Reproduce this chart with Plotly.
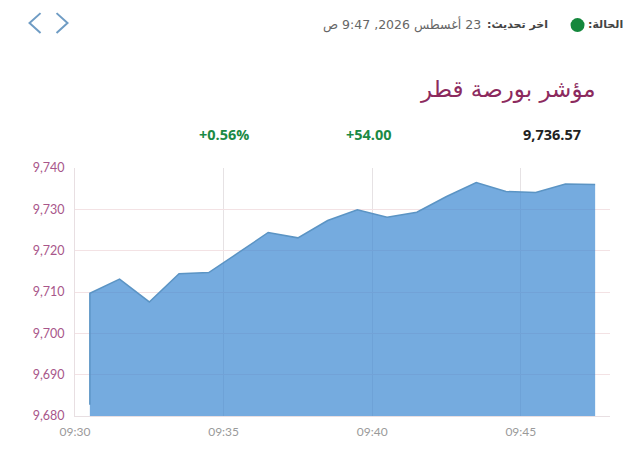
import plotly.graph_objects as go

# Data
times = ["2026-08-23 09:30:30", "2026-08-23 09:30:30", "2026-08-23 09:31:30", "2026-08-23 09:32:30",
         "2026-08-23 09:33:30", "2026-08-23 09:34:30", "2026-08-23 09:35:30", "2026-08-23 09:36:30",
         "2026-08-23 09:37:30", "2026-08-23 09:38:30", "2026-08-23 09:39:30", "2026-08-23 09:40:30",
         "2026-08-23 09:41:30", "2026-08-23 09:42:30", "2026-08-23 09:43:30", "2026-08-23 09:44:30",
         "2026-08-23 09:45:30", "2026-08-23 09:46:30", "2026-08-23 09:47:30"]
index_values = [9682.7, 9709.7, 9713.1, 9707.6, 9714.4, 9714.7, 9719.5, 9724.4, 9723.1, 9727.3,
                9729.9, 9728.1, 9729.3, 9733.1, 9736.5, 9734.3, 9734.1, 9736.1, 9736.0]
y_ticks = [9680, 9690, 9700, 9710, 9720, 9730, 9740]

title_text = "مؤشر بورصة قطر"
status_label = "\u202bالحالة:\u202c"
update_label = "\u202bاخر تحديث:\u202c"
update_value = "\u202b23 أغسطس 2026, 9:47 ص\u202c"
last_value = "9,736.57"
change_value = "+54.00"
change_pct = "+0.56%"

W, H = 640, 467
L, R, T, B = 74.5, 610, 167.5, 416.5


def px(x):
    return (x - L) / (R - L)


def py(y):
    return (B - y) / (B - T)


fig = go.Figure()

fig.add_trace(go.Scatter(
    x=times,
    y=index_values,
    mode="lines",
    line=dict(color="#5b94c4", width=1.5),
    fill="tozeroy",
    fillcolor="rgba(58,135,209,0.7)",
    hoverinfo="skip",
    showlegend=False,
))


def label(text, x, y, size, color, anchor="center", family="Noto Sans"):
    fig.add_annotation(
        text=text, x=px(x), y=py(y), xref="paper", yref="paper",
        xanchor=anchor, yanchor="middle", showarrow=False,
        borderpad=0, borderwidth=0,
        font=dict(size=size, color=color, family=family),
    )


arabic = "DejaVu Sans"
label("<b>" + status_label + "</b>", 623, 23, 11, "#444444", "right", arabic)
label("<b>" + update_label + "</b>", 548, 23, 11, "#444444", "right", arabic)
label(update_value, 481, 23, 12.5, "#666666", "right", arabic)
label(title_text, 596, 89, 23, "#8c2a5e", "right", arabic)
label("<b>" + last_value + "</b>", 552, 134, 14.5, "#222222", family="Open Sans")
label("<b>" + change_value + "</b>", 369, 134, 14.5, "#1b8a45", family="Open Sans")
label("<b>" + change_pct + "</b>", 224, 134, 14.5, "#1b8a45", family="Open Sans")

# Status dot and the two arrows
fig.add_shape(type="circle", xref="paper", yref="paper",
              x0=px(570.5), x1=px(584.5), y0=py(31), y1=py(17),
              fillcolor="#14873c", line=dict(width=0))
for pts in ([(40, 12), (29, 22), (40, 32)], [(56, 12), (67, 22), (56, 32)]):
    path = "M " + " L ".join(f"{px(a):.4f} {py(b):.4f}" for a, b in pts)
    fig.add_shape(type="path", xref="paper", yref="paper", path=path,
                  line=dict(color="#6f9cc4", width=2))

fig.update_layout(
    width=W,
    height=H,
    margin=dict(l=L, r=W - R, t=T, b=H - B, pad=0),
    paper_bgcolor="white",
    plot_bgcolor="white",
    xaxis=dict(
        range=["2026-08-23 09:30:00", "2026-08-23 09:48:00"],
        dtick=300000,
        tick0="2026-08-23 09:30:00",
        tickformat="%H:%M",
        showgrid=True,
        gridcolor="#e6e2e4",
        gridwidth=1,
        showline=True,
        linecolor="#e8dfe2",
        ticks="outside",
        ticklen=5,
        tickcolor="rgba(0,0,0,0)",
        tickfont=dict(family="Lato", size=12, color="#9a9a9a"),
    ),
    yaxis=dict(
        range=[9680, 9740],
        tickvals=y_ticks,
        tickformat=",d",
        showgrid=True,
        gridcolor="#f3e2e4",
        gridwidth=1,
        showline=True,
        linecolor="#e8dfe2",
        ticks="outside",
        ticklen=7,
        tickcolor="rgba(0,0,0,0)",
        tickfont=dict(family="Lato", size=12.5, color="#a8568a"),
    ),
)

# Page margin off so the picture starts at the window corner
fig.write_html("out.html", config={"displayModeBar": False},
               post_script="document.body.style.margin='0';")
